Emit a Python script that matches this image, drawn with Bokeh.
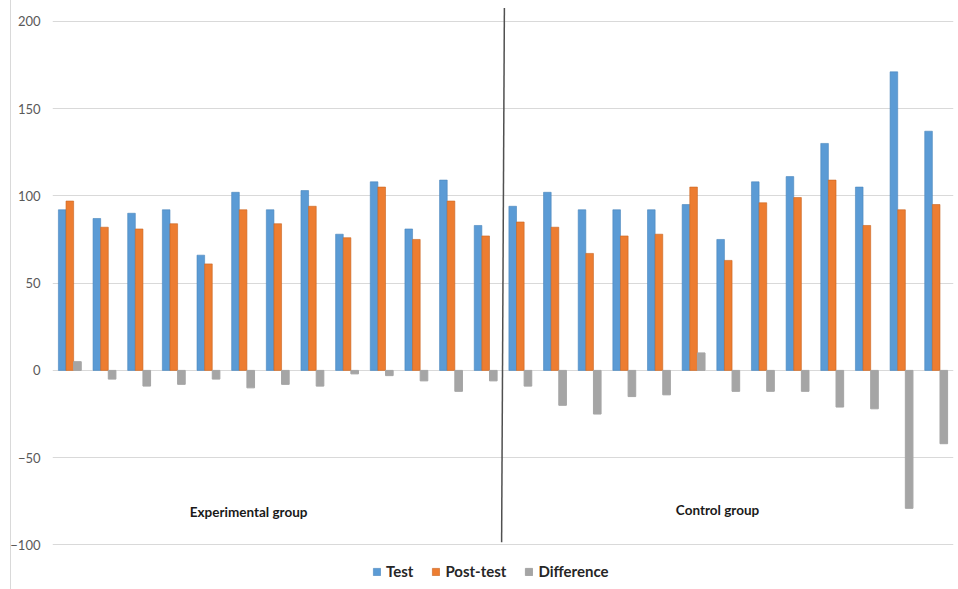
from bokeh.plotting import figure
from bokeh.models import FixedTicker, Legend, LegendItem, ColumnDataSource
from bokeh.core.properties import value
from bokeh.transform import dodge
from bokeh.embed import file_html
from bokeh.resources import INLINE

# Scores per participant: 13 experimental, then 13 control
test_exp = [92, 87, 90, 92, 66, 102, 92, 103, 78, 108, 81, 109, 83]
post_exp = [97, 82, 81, 84, 61, 92, 84, 94, 76, 105, 75, 97, 77]
diff_exp = [5, -5, -9, -8, -5, -10, -8, -9, -2, -3, -6, -12, -6]

test_ctl = [94, 102, 92, 92, 92, 95, 75, 108, 111, 130, 105, 171, 137]
post_ctl = [85, 82, 67, 77, 78, 105, 63, 96, 99, 109, 83, 92, 95]
diff_ctl = [-9, -20, -25, -15, -14, 10, -12, -12, -12, -21, -22, -79, -42]

y_ticks = [-100, -50, 0, 50, 100, 150, 200]
group_names = ["Experimental group", "Control group"]
series_names = ["Test", "Post-test", "Difference"]

test = test_exp + test_ctl
post = post_exp + post_ctl
diff = diff_exp + diff_ctl
n = len(test)
idx = list(range(n))

src = ColumnDataSource(dict(pos=[i + 0.5 for i in idx], test=test, post=post, diff=diff))

p = figure(width=958, height=589, output_backend="svg", toolbar_location=None,
           x_range=(0, n), y_range=(-125.5, 209), x_axis_location=None,
           min_border_left=52, min_border_right=5, min_border_top=5, min_border_bottom=0)
# thin chart-area edge on the left, shown through the transparent border fill
p.styles = {"background": "linear-gradient(to right, transparent 10px, #d9d9d9 10px, "
                          "#d9d9d9 11px, transparent 11px)"}
p.border_fill_alpha = 0
p.outline_line_color = None
p.background_fill_color = "white"

p.xgrid.visible = False
p.ygrid.ticker = FixedTicker(ticks=y_ticks)
p.ygrid.grid_line_color = "#d9d9d9"
p.ygrid.grid_line_width = 1

ax = p.yaxis[0]
ax.ticker = FixedTicker(ticks=y_ticks)
ax.axis_line_color = None
ax.major_tick_line_color = None
ax.minor_tick_line_color = None
ax.major_tick_out = 0
ax.major_tick_in = 0
ax.minor_tick_out = 0
ax.major_label_standoff = 12
ax.major_label_text_font = "Lato"
ax.major_label_text_font_size = "13px"
ax.major_label_text_color = "#595959"

w = 0.22
r_test = p.vbar(x=dodge("pos", -w, range=p.x_range), top="test", bottom=0, width=w, source=src,
                fill_color="#5b9bd5", line_color="#4a86bd", line_alpha=0.6, line_width=1)
r_post = p.vbar(x=dodge("pos", 0, range=p.x_range), top="post", bottom=0, width=w, source=src,
                fill_color="#ed7d31", line_color="#c8641f", line_alpha=0.6, line_width=1)
r_diff = p.vbar(x=dodge("pos", w, range=p.x_range), top="diff", bottom=0, width=w, source=src,
                fill_color="#a5a5a5", line_color="#a5a5a5", line_width=1)

# divider between the two groups
p.segment(x0=[13.04], y0=[207.5], x1=[12.96], y1=[-98.5], line_color="#505050", line_width=1.5)

# group captions
p.text(x=[5.66, 19.19], y=[-81, -80], text=group_names, text_align="center",
       text_baseline="middle", text_font=value("Lato"), text_font_style="bold",
       text_font_size="13.5px", text_color="#1a1a1a")

legend = Legend(items=[LegendItem(label=series_names[0], renderers=[r_test]),
                       LegendItem(label=series_names[1], renderers=[r_post]),
                       LegendItem(label=series_names[2], renderers=[r_diff])],
                orientation="horizontal", location=(320, 9),
                glyph_width=9, glyph_height=9, label_standoff=5, spacing=18,
                padding=0, margin=0, border_line_color=None, background_fill_alpha=0,
                label_text_font="Lato", label_text_font_style="bold",
                label_text_font_size="15px", label_text_color="#262626")
p.add_layout(legend)

open("out.html", "w").write(file_html(p, INLINE))
